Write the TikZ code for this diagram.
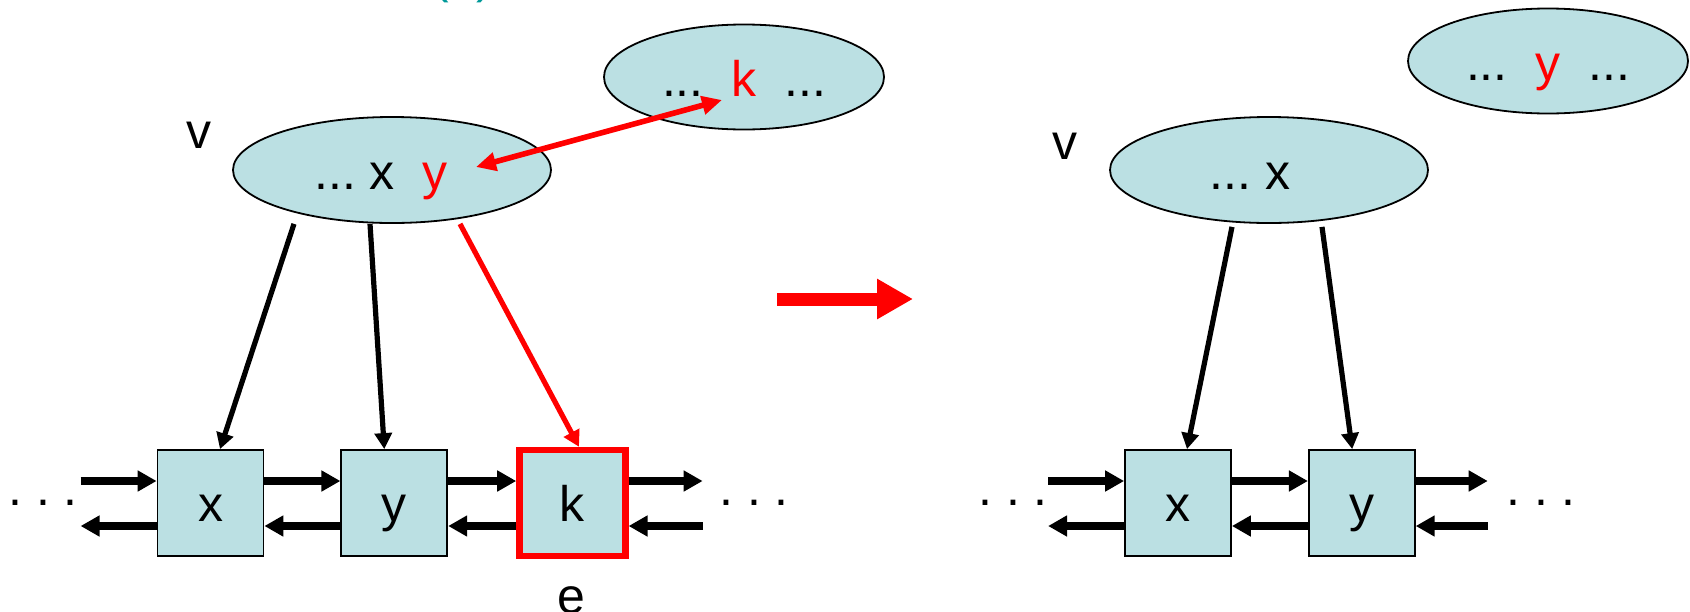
\documentclass[tikz,border=0pt]{standalone}
\usepackage{fontspec}
\setmainfont{Liberation Sans}
\usetikzlibrary{arrows.meta,positioning,shapes.geometric}
\definecolor{cellblue}{RGB}{187,224,227}
\definecolor{capteal}{RGB}{0,153,153}

\begin{document}
\begin{tikzpicture}[x=0.5pt,y=-0.5pt,
  font=\fontsize{25pt}{30pt}\selectfont,
  node distance=38pt,
  blob/.style={ellipse,draw,line width=0.9pt,fill=cellblue,inner sep=0pt,
               minimum width=159pt,minimum height=53pt,text height=19pt,text depth=0pt},
  smallblob/.style={blob,minimum width=140pt,minimum height=52.5pt},
  cell/.style={rectangle,draw,line width=0.9pt,fill=cellblue,inner sep=0pt,
               minimum size=53pt,text height=18pt,text depth=0pt},
  hot/.style={draw=red,line width=3.2pt},
  dots/.style={inner sep=0pt},
  link/.style={-{Triangle[length=9.5pt,width=10pt]},line width=4.3pt},
  ptr/.style={-{Triangle[length=8pt,width=8.5pt]},line width=2.6pt},
  swap/.style={{Triangle[length=10pt,width=9pt]}-{Triangle[length=10pt,width=9pt]},
               line width=2.8pt,red}]

\useasboundingbox (0,0) rectangle (1690,611);

% before
\node[anchor=base,text=capteal] (cap) at (463,-8) {(a)};
\node[blob] (v1) at (392,170) {...\ x\ \ \textcolor{red}{y}\kern11pt};
\node[smallblob] (p1) at (744,77) {...\ \ \textcolor{red}{k}\ \ ...};
\node (v1lab) at (199,135) {v};
\node[cell] (x1) at (210.5,503) {x};
\node[cell,right=of x1] (y1) {y};
\node[cell,hot,right=34pt of y1] (k1) {k};
\node (e1lab) at (571,600) {e};
\coordinate[left=of x1] (l1);
\coordinate[right=37pt of k1] (r1);
\node[dots] (d1) at (43,503) {.\ .\ .};
\node[dots] (d2) at (754,503) {.\ .\ .};

\draw[link] ([yshift=11pt]l1) -- ([yshift=11pt]x1.west);
\draw[link] ([yshift=-11.5pt]x1.west) -- ([yshift=-11.5pt]l1);
\draw[link] ([yshift=11pt]x1.east) -- ([yshift=11pt]y1.west);
\draw[link] ([yshift=-11.5pt]y1.west) -- ([yshift=-11.5pt]x1.east);
\draw[link] ([yshift=11pt]y1.east) -- ([yshift=11pt]k1.west);
\draw[link] ([yshift=-11.5pt]k1.west) -- ([yshift=-11.5pt]y1.east);
\draw[link] ([yshift=11pt]k1.east) -- ([yshift=11pt]r1);
\draw[link] ([yshift=-11.5pt]r1) -- ([yshift=-11.5pt]k1.east);

\draw[ptr] ([xshift=-49pt]v1.south) -- ([xshift=4.75pt]x1.north);
\draw[ptr] ([xshift=-11pt]v1.south) -- ([xshift=-5pt]y1.north);
\draw[ptr,red] ([xshift=34pt]v1.south) -- ([xshift=3.3pt]k1.north);

\coordinate (yslot) at (476,167);
\coordinate (kslot) at (722,100);
\draw[swap] (yslot) -- (kslot);

% step
\coordinate (go) at (777,299);
\coordinate (gone) at (913,299);
\draw[red,line width=6.5pt,-{Triangle[length=18pt,width=19pt]}] (go) -- (gone);

% after
\node[blob] (v2) at (1269,170) {...\ x\kern19pt};
\node[smallblob] (p2) at (1548,61) {...\ \ \textcolor{red}{y}\ \ ...};
\node (v2lab) at (1065,146) {v};
\node[cell] (x2) at (1178,503) {x};
\node[cell,right=of x2] (y2) {y};
\coordinate[left=of x2] (l2);
\coordinate[right=36pt of y2] (r2);
\node[dots] (d3) at (1013,503) {.\ .\ .};
\node[dots] (d4) at (1541,503) {.\ .\ .};

\draw[link] ([yshift=11pt]l2) -- ([yshift=11pt]x2.west);
\draw[link] ([yshift=-11.5pt]x2.west) -- ([yshift=-11.5pt]l2);
\draw[link] ([yshift=11pt]x2.east) -- ([yshift=11pt]y2.west);
\draw[link] ([yshift=-11.5pt]y2.west) -- ([yshift=-11.5pt]x2.east);
\draw[link] ([yshift=11pt]y2.east) -- ([yshift=11pt]r2);
\draw[link] ([yshift=-11.5pt]r2) -- ([yshift=-11.5pt]y2.east);

\draw[ptr] ([xshift=-18.5pt,yshift=-1.5pt]v2.south) -- ([xshift=4.5pt]x2.north);
\draw[ptr] ([xshift=26.5pt,yshift=-1.5pt]v2.south) -- ([xshift=-4.8pt]y2.north);
\end{tikzpicture}
\end{document}
